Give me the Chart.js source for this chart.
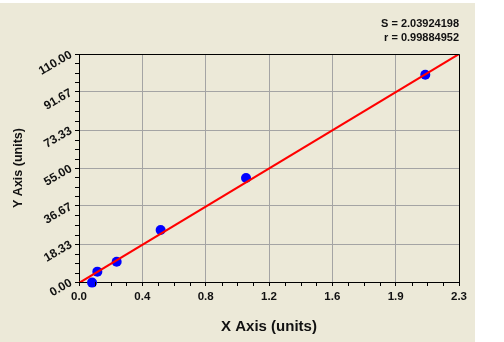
<!DOCTYPE html>
<html>
<head>
<meta charset="utf-8">
<script src="https://cdn.jsdelivr.net/npm/chart.js@4.4.0/dist/chart.umd.min.js"></script>
<style>
  html, body { margin: 0; padding: 0; background: #fff; }
  canvas { display: block; }
</style>
</head>
<body>
<canvas id="calChart" width="504" height="342"></canvas>
<script>
const xValues = [0.079, 0.111, 0.228, 0.494, 1.011, 2.096];
const yValues = [-0.3, 5.0, 9.8, 25.1, 50.2, 100.0];

// fitted line end points
const fitX = [0, 2.3];
const fitY = [-0.5, 110.0];

const xTicks = [0, 0.38333, 0.76667, 1.15, 1.53333, 1.91667, 2.3];
const xTickLabels = ['0.0', '0.4', '0.8', '1.2', '1.6', '1.9', '2.3'];
const yTicks = [0, 18.3333, 36.6667, 55, 73.3333, 91.6667, 110];
const yTickLabels = ['0.00', '18.33', '36.67', '55.00', '73.33', '91.67', '110.00'];

const statLines = ['S = 2.03924198', 'r = 0.99884952'];

const FONT = '"Liberation Sans", Arial, sans-serif';

const framePlugin = {
    id: 'frame',
    beforeDraw(chart) {
        const c = chart.ctx;
        c.save();
        c.fillStyle = '#ece9d8';
        c.fillRect(0, 3, 475, chart.height - 3);
        c.restore();
    },
    afterDraw(chart) {
        const c = chart.ctx;
        const a = chart.chartArea;
        const xs = chart.scales.x;
        const ys = chart.scales.y;
        const top = Math.round(a.top) + 0.5;
        const right = Math.round(a.right) + 0.5;
        c.save();
        c.strokeStyle = '#000';
        c.lineWidth = 1;
        c.beginPath();
        // top + right side of the plot box
        c.moveTo(a.left, top);
        c.lineTo(right, top);
        c.lineTo(right, a.bottom);
        // minor ticks, 4 steps between majors
        for (let i = 0; i < yTicks.length - 1; i++) {
            for (let k = 1; k < 4; k++) {
                const py = Math.round(ys.getPixelForValue(yTicks[i] + (yTicks[i + 1] - yTicks[i]) * k / 4)) + 0.5;
                c.moveTo(a.left - 4, py);
                c.lineTo(a.left, py);
            }
        }
        for (let i = 0; i < xTicks.length - 1; i++) {
            for (let k = 1; k < 4; k++) {
                const px = Math.round(xs.getPixelForValue(xTicks[i] + (xTicks[i + 1] - xTicks[i]) * k / 4)) + 0.5;
                c.moveTo(px, a.bottom);
                c.lineTo(px, a.bottom + 4);
            }
        }
        c.stroke();

        c.fillStyle = '#111';
        c.font = 'bold 11px ' + FONT;
        c.textAlign = 'right';
        c.textBaseline = 'alphabetic';
        statLines.forEach((t, i) => c.fillText(t, a.right, 27 + i * 13.5));
        c.restore();
    }
};

const ctx = document.getElementById('calChart').getContext('2d');
const myChart = new Chart(ctx, {
    type: 'scatter',
    data: {
        datasets: [
            {
                data: fitX.map((v, i) => ({ x: v, y: fitY[i] })),
                showLine: true,
                borderColor: '#ff0000',
                borderWidth: 2,
                pointRadius: 0
            },
            {
                data: xValues.map((v, i) => ({ x: v, y: yValues[i] })),
                backgroundColor: '#0000ff',
                borderWidth: 0,
                pointRadius: 5,
                clip: false
            }
        ]
    },
    options: {
        responsive: false,
        animation: false,
        events: [],
        layout: { padding: { top: 54, right: 45, bottom: 0, left: 0 } },
        plugins: {
            legend: { display: false },
            tooltip: { enabled: false }
        },
        scales: {
            x: {
                type: 'linear',
                min: 0,
                max: 2.3,
                afterBuildTicks: s => { s.ticks = xTicks.map(v => ({ value: v })); },
                afterFit: s => { s.height = 60; },
                ticks: {
                    autoSkip: false,
                    maxRotation: 0,
                    padding: 4,
                    color: '#111',
                    font: { family: FONT, size: 11.5, weight: 'bold' },
                    callback: (v, i) => xTickLabels[i]
                },
                grid: { color: '#a4a4a4', tickColor: '#000', tickLength: 4 },
                border: { color: '#000' },
                title: {
                    display: true,
                    text: 'X Axis (units)',
                    color: '#111',
                    font: { family: FONT, size: 15, weight: 'bold' },
                    padding: { top: 0, bottom: 6 }
                }
            },
            y: {
                type: 'linear',
                min: 0,
                max: 110,
                afterBuildTicks: s => { s.ticks = yTicks.map(v => ({ value: v })); },
                afterFit: s => { s.width = 79; },
                ticks: {
                    autoSkip: false,
                    minRotation: 30,
                    maxRotation: 30,
                    padding: 4,
                    color: '#111',
                    font: { family: FONT, size: 12, weight: 'bold' },
                    callback: (v, i) => yTickLabels[i]
                },
                grid: { color: '#a4a4a4', tickColor: '#000', tickLength: 4 },
                border: { color: '#000' },
                title: {
                    display: true,
                    text: 'Y Axis (units)',
                    color: '#111',
                    font: { family: FONT, size: 12.5, weight: 'bold' },
                    padding: { top: 11, bottom: 0 }
                }
            }
        }
    },
    plugins: [framePlugin]
});
</script>
</body>
</html>
